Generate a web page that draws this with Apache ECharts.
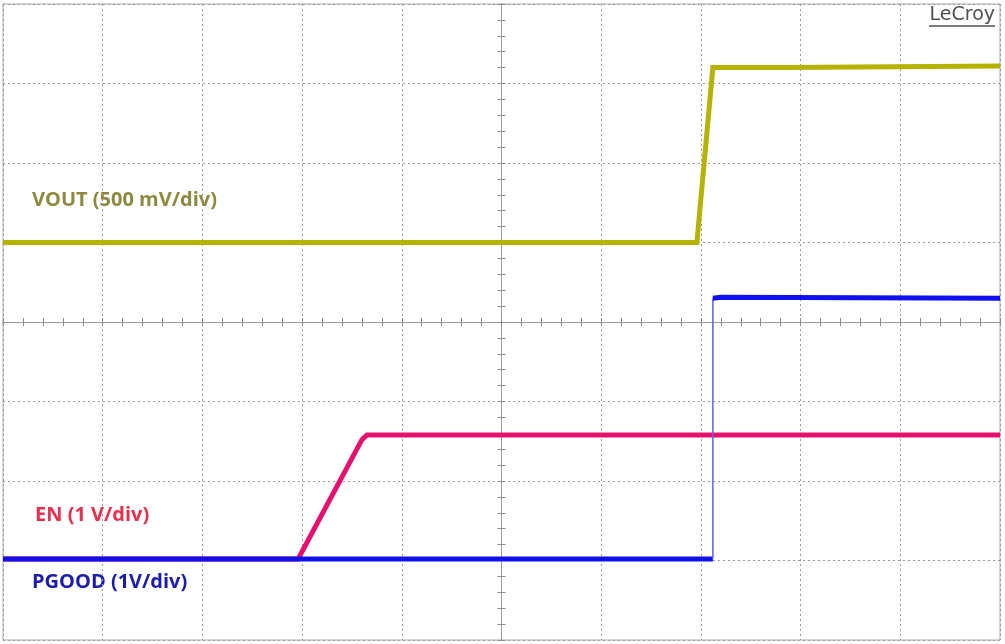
<!DOCTYPE html>
<html>
<head>
<meta charset="utf-8">
<script src="https://cdn.jsdelivr.net/npm/echarts@6/dist/echarts.min.js"></script>
<style>
html,body{margin:0;padding:0;background:#fff;}
#c{width:1005px;height:644px;}
</style>
</head>
<body>
<div id="c"></div>
<script>
// Time axis in divisions (-5..5), vertical in divisions (-4..4)
const voutX = [-5, 1.96, 2.12, 2.86, 2.87, 5];
const voutY = [1.0, 1.0, 3.2, 3.2, 3.22, 3.22];
const enX = [-5, -2.04, -1.40, -1.35, 5];
const enY = [-2.98, -2.98, -1.48, -1.42, -1.42];
const pgoodLowX = [-5, 2.12];
const pgoodLowY = [-2.98, -2.98];
const pgoodEdgeX = [2.12, 2.12];
const pgoodEdgeY = [-2.98, 0.30];
const pgoodHighX = [2.12, 2.2, 5];
const pgoodHighY = [0.30, 0.31, 0.30];
const labels = ['VOUT (500 mV/div)', 'EN (1 V/div)', 'PGOOD (1V/div)', 'LeCroy'];

const zip = (xs, ys) => xs.map((x, i) => [x, ys[i]]);
const chart = echarts.init(document.getElementById('c'), null, {renderer: 'canvas'});

const tickStyle = {color: '#8a8a8a', width: 1};
function xAx(pos, split) {
  return {
    type: 'value', min: -5, max: 5, interval: 1, position: pos,
    axisLine: {show: true, onZero: true, lineStyle: {color: '#9a9a9a', width: 1}},
    axisTick: {show: true, length: 4, lineStyle: tickStyle},
    minorTick: {show: true, splitNumber: 5, length: 4, lineStyle: tickStyle},
    axisLabel: {show: false},
    splitLine: {show: split, lineStyle: {type: [2, 3], color: '#9a9a9a', width: 1}},
    minorSplitLine: {show: false}
  };
}
function yAx(pos, split) {
  return {
    type: 'value', min: -4, max: 4, interval: 1, position: pos,
    axisLine: {show: true, onZero: true, lineStyle: {color: '#9a9a9a', width: 1}},
    axisTick: {show: true, length: 4, lineStyle: tickStyle},
    minorTick: {show: true, splitNumber: 5, length: 4, lineStyle: tickStyle},
    axisLabel: {show: false},
    splitLine: {show: split, lineStyle: {type: [2, 3], color: '#9a9a9a', width: 1}},
    minorSplitLine: {show: false}
  };
}
function line(data, color, width, z) {
  return {type: 'line', data: data, showSymbol: false, symbol: 'none', animation: false,
    lineStyle: {color: color, width: width, cap: 'butt', join: 'miter'}, z: z,
    xAxisIndex: 0, yAxisIndex: 0};
}

chart.setOption({
  backgroundColor: '#ffffff',
  animation: false,
  grid: {left: 3, top: 4, width: 997, height: 636, show: true, borderColor: '#a8a8a8', borderWidth: 1, backgroundColor: 'transparent'},
  xAxis: [xAx('bottom', true), xAx('top', false)],
  yAxis: [yAx('left', true), yAx('right', false)],
  series: [
    line(zip(voutX, voutY), '#b6b300', 5, 3),
    line(zip(enX, enY), '#e8106e', 5, 4),
    line(zip(pgoodLowX, pgoodLowY), '#1010ee', 5, 5),
    line(zip(pgoodEdgeX, pgoodEdgeY), '#6060e8', 1.5, 5),
    line(zip(pgoodHighX, pgoodHighY), '#1010ee', 5, 5)
  ],
  graphic: [
    {type: 'text', left: 32, top: 190, style: {text: labels[0], font: 'bold 20px "Open Sans"', fill: '#8c8a3e'}},
    {type: 'text', left: 35, top: 505, style: {text: labels[1], font: 'bold 20px "Open Sans"', fill: '#e8304e'}},
    {type: 'text', left: 32, top: 572, style: {text: labels[2], font: 'bold 20px "Open Sans"', fill: '#1c1cae'}},
    {type: 'text', right: 10, top: 6, style: {text: labels[3], font: '19px "DejaVu Sans"', fill: '#505050'}},
    {type: 'line', shape: {x1: 929, y1: 26, x2: 995, y2: 26}, style: {stroke: '#505050', lineWidth: 1.5}}
  ]
});
</script>
</body>
</html>
